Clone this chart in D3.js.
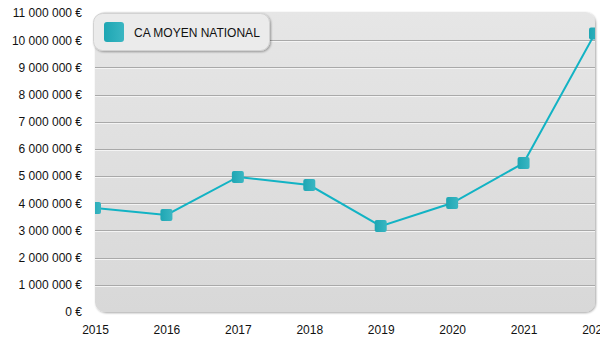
<!DOCTYPE html>
<html>
<head>
<meta charset="utf-8">
<script src="https://cdn.jsdelivr.net/npm/d3@7"></script>
<style>
  html, body { margin: 0; padding: 0; background: #fff; }
  svg { display: block; font-family: "Liberation Sans", Arial, sans-serif; }
</style>
</head>
<body>
<svg id="chart" width="600" height="350"></svg>
<script>
// Average national turnover per year
const years = ["2015", "2016", "2017", "2018", "2019", "2020", "2021", "2022"];
const caMoyen = [3830000, 3570000, 4970000, 4670000, 3160000, 4010000, 5480000, 10250000];
const yTicks = [0, 1000000, 2000000, 3000000, 4000000, 5000000, 6000000, 7000000, 8000000, 9000000, 10000000, 11000000];
const seriesName = "CA MOYEN NATIONAL";

const svg = d3.select("#chart");
const m = { left: 95, right: 595, top: 13, bottom: 312 };

const x = d3.scalePoint().domain(years).range([m.left, m.right]);
const y = d3.scaleLinear().domain([0, 11000000]).range([m.bottom, m.top]);

const fmt = v => d3.format(",")(v).replace(/,/g, " ") + " €";

const defs = svg.append("defs");
const bg = defs.append("linearGradient").attr("id", "bg").attr("x1", 0).attr("y1", 0).attr("x2", 0).attr("y2", 1);
bg.append("stop").attr("offset", "0%").attr("stop-color", "#e6e6e6");
bg.append("stop").attr("offset", "100%").attr("stop-color", "#d8d8d8");
const mk = defs.append("linearGradient").attr("id", "mk").attr("x1", 0).attr("y1", 0).attr("x2", 1).attr("y2", 0);
mk.append("stop").attr("offset", "0%").attr("stop-color", "#1ea6b3");
mk.append("stop").attr("offset", "100%").attr("stop-color", "#3ab6c2");
defs.append("clipPath").attr("id", "plotClip").append("rect")
  .attr("x", m.left).attr("y", m.top - 20).attr("width", m.right - m.left).attr("height", m.bottom - m.top + 40);
const sh = defs.append("filter").attr("id", "sh").attr("x", "-10%").attr("y", "-10%").attr("width", "130%").attr("height", "130%");
sh.append("feDropShadow").attr("dx", 1).attr("dy", 1).attr("stdDeviation", 0.8).attr("flood-color", "#000").attr("flood-opacity", 0.35);

// panel
svg.append("rect")
  .attr("x", m.left).attr("y", m.top - 1)
  .attr("width", m.right - m.left).attr("height", m.bottom - m.top + 1)
  .attr("rx", 10).attr("fill", "url(#bg)").attr("filter", "url(#sh)");

// grid lines (gray with a white highlight under each)
const grid = svg.append("g");
yTicks.filter(t => t > 0 && t < 11000000).forEach(t => {
  grid.append("line").attr("x1", m.left).attr("x2", m.right)
    .attr("y1", Math.round(y(t)) + 0.5).attr("y2", Math.round(y(t)) + 0.5)
    .attr("stroke", "#a9a9a9").attr("stroke-width", 1);
  grid.append("line").attr("x1", m.left).attr("x2", m.right)
    .attr("y1", Math.round(y(t)) + 1.5).attr("y2", Math.round(y(t)) + 1.5)
    .attr("stroke", "#f4f4f4").attr("stroke-width", 1);
});

// y axis labels
const yAxis = d3.axisLeft(y).tickValues(yTicks).tickFormat(fmt).tickSize(0).tickPadding(0);
const ya = svg.append("g").attr("transform", `translate(${m.left - 13},0)`).call(yAxis);
ya.select(".domain").remove();
ya.selectAll("text").attr("font-size", 12).attr("fill", "#111")
  .attr("font-family", "'Liberation Sans', Arial, sans-serif");

// x axis labels
const xAxis = d3.axisBottom(x).tickSize(0).tickPadding(0);
const xa = svg.append("g").attr("transform", `translate(0,${m.bottom + 13})`).call(xAxis);
xa.select(".domain").remove();
xa.selectAll("text").attr("font-size", 12).attr("fill", "#111")
  .attr("font-family", "'Liberation Sans', Arial, sans-serif");

// line + markers
const data = years.map((yr, i) => ({ yr, v: caMoyen[i] }));
const plot = svg.append("g").attr("clip-path", "url(#plotClip)");
plot.append("path").datum(data)
  .attr("fill", "none").attr("stroke", "#12b3c4").attr("stroke-width", 2)
  .attr("d", d3.line().x(d => x(d.yr)).y(d => y(d.v)));
plot.selectAll("rect.mk").data(data).join("rect").attr("class", "mk")
  .attr("x", d => x(d.yr) - 6).attr("y", d => y(d.v) - 6)
  .attr("width", 12).attr("height", 12).attr("rx", 2)
  .attr("fill", "url(#mk)");

// legend
const lg = svg.append("g");
lg.append("rect").attr("x", 93.5).attr("y", 13.5).attr("width", 176).attr("height", 37)
  .attr("rx", 9).attr("fill", "#ebebeb").attr("stroke", "#d2d2d2").attr("filter", "url(#sh)");
lg.append("rect").attr("x", 104).attr("y", 22).attr("width", 20).attr("height", 20).attr("rx", 3)
  .attr("fill", "url(#mk)");
lg.append("text").attr("x", 134).attr("y", 37).attr("font-size", 12).attr("fill", "#111")
  .text(seriesName);
</script>
</body>
</html>
